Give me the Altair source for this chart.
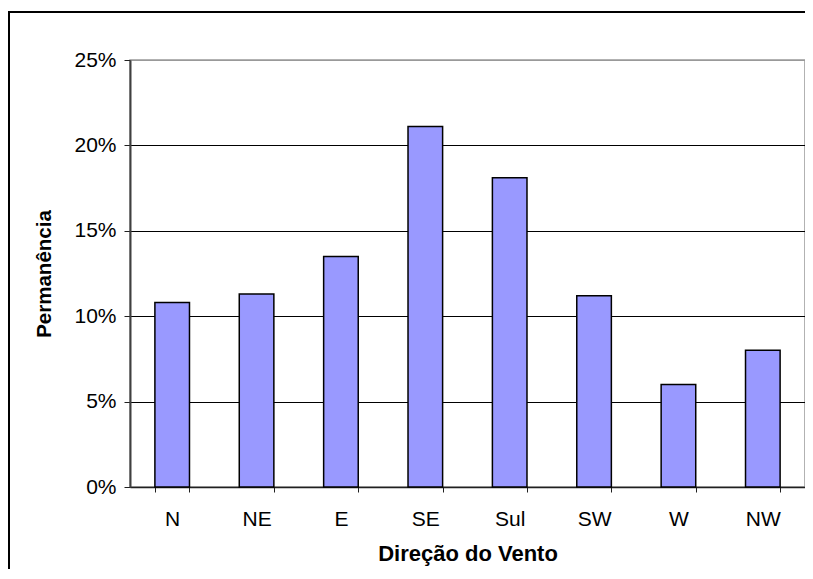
import altair as alt
import pandas as pd

directions = ["N", "NE", "E", "SE", "Sul", "SW", "W", "NW"]
values = [0.108, 0.113, 0.135, 0.211, 0.181, 0.112, 0.060, 0.080]
y_ticks = [0, 0.05, 0.10, 0.15, 0.20, 0.25]

df = pd.DataFrame({"dir": directions, "val": values})

FONT = "Liberation Sans"

bars = alt.Chart(df).mark_bar(
    color="#9999FF", stroke="black", strokeWidth=1.5
).encode(
    x=alt.X("dir:N", sort=directions,
            scale=alt.Scale(paddingInner=0.59, paddingOuter=0.295),
            axis=alt.Axis(title="Direção do Vento", labelAngle=0,
                          labelFontSize=21, labelFont=FONT, labelColor="black",
                          labelPadding=16, tickSize=5, tickColor="#202020",
                          tickBand="extent",
                          domainColor="#202020", domainWidth=1.5,
                          titleFont=FONT, titleFontSize=22, titleFontWeight="bold",
                          titleColor="black", titlePadding=14)),
    y=alt.Y("val:Q", scale=alt.Scale(domain=[0, 0.25], nice=False),
            axis=alt.Axis(title="Permanência", format=".0%", values=y_ticks,
                          labelFontSize=21, labelFont=FONT, labelColor="black",
                          labelPadding=8, tickSize=6, tickColor="#202020",
                          domainColor="#404040", domainWidth=2,
                          grid=True,
                          gridColor={"condition": {"test": "datum.value >= 0.25", "value": "#999999"},
                                     "value": "black"},
                          gridWidth=1.2,
                          titleFont=FONT, titleFontSize=20.5, titleFontWeight="bold",
                          titleColor="black", titlePadding=19)),
)

frame = alt.Chart(df).mark_rect(filled=False, stroke="black", strokeWidth=1.5).encode(
    x=alt.value(-121), x2=alt.value(700),
    y=alt.value(-48), y2=alt.value(520),
)

chart = alt.layer(frame, bars).properties(
    width=675, height=427,
    autosize=alt.AutoSizeParams(type="none"),
    padding={"left": 122, "top": 52, "right": 0, "bottom": 82},
).configure_view(stroke="#999999", strokeWidth=1.5)

chart.save("out.html", embed_options={"renderer": "svg", "actions": False})
